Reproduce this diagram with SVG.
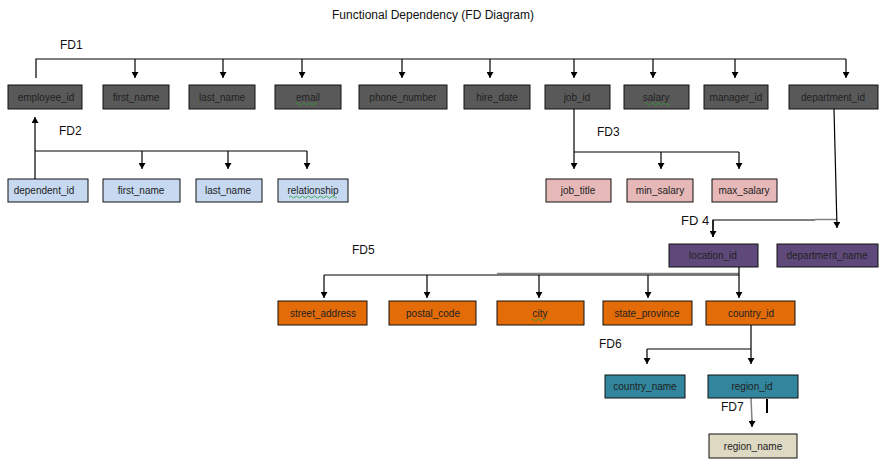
<svg xmlns="http://www.w3.org/2000/svg" width="887" height="473" viewBox="0 0 887 473">
<style>
  text { font-family: "Liberation Sans", Arial, sans-serif; }
  .title { font-size: 12px; fill: #111; text-anchor: middle; }
  .fd { font-size: 12px; fill: #111; }
  .lbl { font-size: 10px; fill: #222; text-anchor: middle; }
  .box { stroke: #111; stroke-width: 1; }
  .emp { fill: #595959; }
  .dep { fill: #c6d9f1; }
  .job { fill: #e6b9b8; }
  .loc { fill: #5f497a; }
  .adr { fill: #e36c09; }
  .cty { fill: #31859c; }
  .reg { fill: #ddd9c3; }
  .ln { stroke: #000; stroke-width: 1.2; fill: none; }
  .arr { stroke: #000; stroke-width: 1.2; fill: none; marker-end: url(#ah); }
  .gry { stroke: #808080; stroke-width: 1.5; fill: none; }
  .sq { stroke: #2e9a2e; stroke-width: 0.8; fill: none; }
</style>
<defs>
  <marker id="ah" markerUnits="userSpaceOnUse" markerWidth="7" markerHeight="7" refX="6" refY="3.5" orient="auto">
    <path d="M0,0 L6,3.5 L0,7 z" fill="#000"/>
  </marker>
</defs>
<rect width="887" height="473" fill="#fff"/>
<text class="title" x="433" y="19">Functional Dependency (FD Diagram)</text>

<g id="labels">
  <text class="fd" x="60" y="49">FD1</text>
  <text class="fd" x="59" y="135">FD2</text>
  <text class="fd" x="597" y="136">FD3</text>
  <text class="fd" x="681" y="225" style="font-size:13px">FD 4</text>
  <text class="fd" x="352" y="254">FD5</text>
  <text class="fd" x="599" y="348">FD6</text>
  <text class="fd" x="721" y="411">FD7</text>
</g>

<g id="connectors">
  <!-- FD1 -->
  <path class="ln" d="M36,78 V59 H846"/>
  <path class="arr" d="M135,59 V78"/>
  <path class="arr" d="M223,59 V78"/>
  <path class="arr" d="M302,59 V78"/>
  <path class="arr" d="M402,59 V78"/>
  <path class="arr" d="M490,59 V78"/>
  <path class="arr" d="M574,59 V78"/>
  <path class="arr" d="M653,59 V78"/>
  <path class="arr" d="M735,59 V78"/>
  <path class="arr" d="M846,59 V78"/>
  <!-- FD2 -->
  <path class="arr" d="M35,179 V117"/>
  <path class="ln" d="M35,151 H307"/>
  <path class="arr" d="M142,151 V169"/>
  <path class="arr" d="M228,151 V169"/>
  <path class="arr" d="M307,151 V169"/>
  <!-- FD3 -->
  <path class="arr" d="M574,109 V169"/>
  <path class="ln" d="M574,152 H739"/>
  <path class="arr" d="M661,152 V169"/>
  <path class="arr" d="M739,152 V169"/>
  <!-- FD4 -->
  <path class="gry" d="M815,219.5 H837"/>
  <path class="arr" d="M834,109 L837,228"/>
  <path class="ln" d="M713,237 V220 H815"/>
  <path class="arr" d="M713,220 V237"/>
  <!-- FD5 -->
  <path class="gry" d="M497,273.5 H739"/>
  <path class="arr" d="M739,267 V298"/>
  <path class="ln" d="M324,275 H739"/>
  <path class="arr" d="M324,275 V298"/>
  <path class="arr" d="M427,275 V298"/>
  <path class="arr" d="M539,275 V298"/>
  <path class="arr" d="M648,275 V298"/>
  <!-- FD6 -->
  <path class="arr" d="M751,325 V364"/>
  <path class="ln" d="M647,349 H751"/>
  <path class="arr" d="M647,349 V364"/>
  <!-- FD7 -->
  <path class="gry" d="M751,398 L752,421"/>
  <path class="arr" d="M752,420 V427"/>
  <path d="M767,399 V413" stroke="#000" stroke-width="2"/>
</g>

<g id="employee_id"><rect class="box emp" x="8" y="85" width="74" height="24"/><text class="lbl" x="46" y="101">employee_id</text></g>
<g id="first_name"><rect class="box emp" x="103" y="85" width="66" height="24"/><text class="lbl" x="136" y="101">first_name</text></g>
<g id="last_name"><rect class="box emp" x="189" y="85" width="66" height="24"/><text class="lbl" x="222" y="101">last_name</text></g>
<g id="email"><rect class="box emp" x="275" y="85" width="66" height="24"/><text class="lbl" x="308" y="101">email</text><path class="sq" d="M296,104 q1.5,-2 3,0 t3,0 t3,0 t3,0 t3,0 t3,0 t3,0"/></g>
<g id="phone_number"><rect class="box emp" x="359" y="85" width="88" height="24"/><text class="lbl" x="403" y="101">phone_number</text></g>
<g id="hire_date"><rect class="box emp" x="464" y="85" width="66" height="24"/><text class="lbl" x="497" y="101">hire_date</text></g>
<g id="job_id"><rect class="box emp" x="545" y="85" width="65" height="24"/><text class="lbl" x="577" y="101">job_id</text></g>
<g id="salary"><rect class="box emp" x="624" y="85" width="65" height="24"/><text class="lbl" x="656" y="101">salary</text><path class="sq" d="M645,104 q1.5,-2 3,0 t3,0 t3,0 t3,0 t3,0 t3,0 t3,0 t3,0"/></g>
<g id="manager_id"><rect class="box emp" x="704" y="85" width="64" height="24"/><text class="lbl" x="736" y="101">manager_id</text></g>
<g id="department_id"><rect class="box emp" x="789" y="85" width="89" height="24"/><text class="lbl" x="833" y="101">department_id</text></g>

<g id="dependent_id"><rect class="box dep" x="8" y="179" width="80" height="23"/><text class="lbl" x="44" y="194">dependent_id</text></g>
<g id="dep_first_name"><rect class="box dep" x="103" y="179" width="77" height="23"/><text class="lbl" x="141" y="194">first_name</text></g>
<g id="dep_last_name"><rect class="box dep" x="196" y="179" width="66" height="23"/><text class="lbl" x="228" y="194">last_name</text></g>
<g id="relationship"><rect class="box dep" x="278" y="179" width="70" height="23"/><text class="lbl" x="313" y="194">relationship</text><path class="sq" d="M289,197 q1.5,-2 3,0 t3,0 t3,0 t3,0 t3,0 t3,0 t3,0 t3,0 t3,0 t3,0 t3,0 t3,0 t3,0 t3,0 t3,0 t3,0"/></g>

<g id="job_title"><rect class="box job" x="546" y="179" width="65" height="23"/><text class="lbl" x="578" y="194">job_title</text></g>
<g id="min_salary"><rect class="box job" x="627" y="179" width="66" height="23"/><text class="lbl" x="660" y="194">min_salary</text></g>
<g id="max_salary"><rect class="box job" x="712" y="179" width="65" height="23"/><text class="lbl" x="744" y="194">max_salary</text></g>

<g id="location_id"><rect class="box loc" x="669" y="244" width="89" height="23"/><text class="lbl" x="713" y="259">location_id</text></g>
<g id="department_name"><rect class="box loc" x="777" y="244" width="101" height="23"/><text class="lbl" x="827" y="259">department_name</text></g>

<g id="street_address"><rect class="box adr" x="278" y="301" width="89" height="24"/><text class="lbl" x="323" y="317">street_address</text></g>
<g id="postal_code"><rect class="box adr" x="389" y="301" width="87" height="24"/><text class="lbl" x="433" y="317">postal_code</text></g>
<g id="city"><rect class="box adr" x="497" y="301" width="87" height="24"/><text class="lbl" x="540" y="317">city</text><path class="sq" d="M531,320 q1.5,-2 3,0 t3,0 t3,0 t3,0 t3,0"/></g>
<g id="state_province"><rect class="box adr" x="603" y="301" width="89" height="24"/><text class="lbl" x="647" y="317">state_province</text></g>
<g id="country_id"><rect class="box adr" x="706" y="301" width="89" height="24"/><text class="lbl" x="751" y="317">country_id</text></g>

<g id="country_name"><rect class="box cty" x="605" y="375" width="80" height="23"/><text class="lbl" x="645" y="390">country_name</text></g>
<g id="region_id"><rect class="box cty" x="708" y="375" width="90" height="23"/><text class="lbl" x="752" y="390">region_id</text></g>

<g id="region_name"><rect class="box reg" x="709" y="434" width="88" height="24"/><text class="lbl" x="753" y="450">region_name</text></g>
</svg>
